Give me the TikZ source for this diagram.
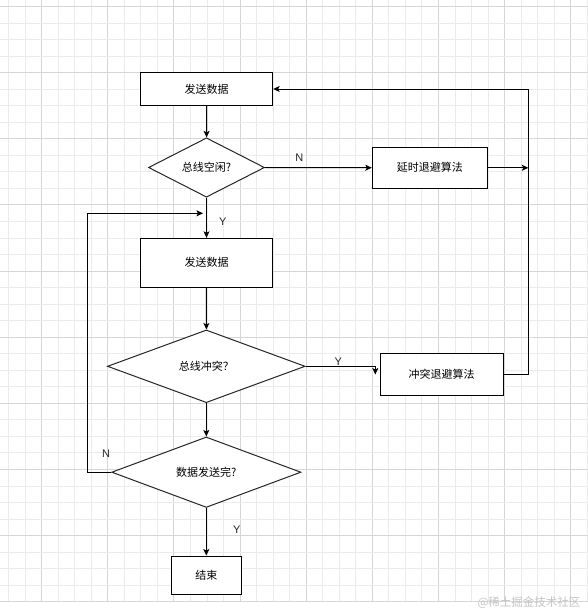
\documentclass[tikz,border=0pt]{standalone}
\usepackage{fontspec}
\setmainfont{Liberation Sans}
\newfontfamily\cjk{Noto Sans CJK SC}
\usetikzlibrary{shapes.geometric,arrows.meta}
\definecolor{gridminor}{HTML}{EBEBEB}
\definecolor{gridmajor}{HTML}{D6D6D6}
\definecolor{wmark}{HTML}{C4C4C4}
\tikzset{
  box/.style={draw=black,line width=1pt,fill=white,inner sep=0pt,font=\cjk\fontsize{11}{13}\selectfont},
  dia/.style={draw=black!85,line width=1pt,fill=white,diamond,inner sep=0pt,font=\cjk\fontsize{11}{13}\selectfont},
  arr/.style={draw=black,line width=1pt,-{Stealth[length=6.5pt,width=6pt,inset=1.5pt]}},
  ln/.style={draw=black,line width=1pt},
  lab/.style={font=\fontsize{11}{13}\selectfont,text=black!85}
}
\begin{document}
\begin{tikzpicture}[x=1pt,y=-1pt]
\useasboundingbox (0,0) rectangle (588,614);
\fill[white] (0,0) rectangle (588,614);
% grid
\foreach \k in {-3,...,33} {
  \pgfmathsetmacro{\xx}{41.7+16.53*\k}
  \pgfmathtruncatemacro{\mm}{mod(\k+400,4)}
  \ifnum\mm=0
    \draw[gridmajor,line width=0.9pt] (\xx,0) -- (\xx,600.7);
  \else
    \draw[gridminor,line width=0.9pt] (\xx,0) -- (\xx,600.7);
  \fi
}
\foreach \k in {-4,...,32} {
  \pgfmathsetmacro{\yy}{72.7+16.53*\k}
  \pgfmathtruncatemacro{\mm}{mod(\k+400,4)}
  \ifnum\mm=0
    \draw[gridmajor,line width=0.9pt] (0,\yy) -- (588,\yy);
  \else
    \draw[gridminor,line width=0.9pt] (0,\yy) -- (588,\yy);
  \fi
}
% nodes
\node[box,minimum width=132pt,minimum height=32.5pt] (b1) at (206.7,89) {发送数据};
\node[dia,minimum width=116pt,minimum height=42pt] (d1) at (206.5,167.5) {总线空闲?};
\node[box,minimum width=115pt,minimum height=41pt] (b2) at (429.8,167.8) {延时退避算法};
\node[box,minimum width=132.4pt,minimum height=49pt] (b3) at (206.5,262.8) {发送数据};
\node[dia,minimum width=197.7pt,minimum height=72.7pt] (d2) at (206.3,366.3) {总线冲突？};
\node[box,minimum width=123.3pt,minimum height=41.7pt] (b4) at (441.7,374.2) {冲突退避算法};
\node[dia,minimum width=189.3pt,minimum height=61pt] (d3) at (206.3,472.2) {数据发送完?};
\node[box,minimum width=70pt,minimum height=38pt] (e) at (206.3,575) {结束};
% helper coordinates
\coordinate (c1) at (528.3,167.8);
\coordinate (cr) at (528.3,89);
\coordinate (cl) at (87.3,213.3);
\coordinate (ca) at (203,213.3);
\coordinate (cy) at (375.3,366.3);
\coordinate (cz) at (375.3,374.5);
% connectors
\draw[arr] (b1) -- (d1);
\draw[arr] (d1) -- (b2);
\draw[arr] (b2) -- (c1);
\draw[arr] (b4.east) -| (cr) -- (b1.east);
\draw[arr] (d1) -- (b3);
\draw[arr] (d3.west) -| (cl) -- (ca);
\draw[arr] (b3) -- (d2);
\draw[arr] (d2.east) -- (cy) -- (cz);
\draw[arr] (d2) -- (d3);
\draw[arr] (d3) -- (e);
% labels
\node[lab] (lN1) at (299.3,157.3) {N};
\node[lab] (lY1) at (222.7,222.2) {Y};
\node[lab] (lY2) at (338.3,362) {Y};
\node[lab] (lN2) at (106,453.3) {N};
\node[lab] (lY3) at (236.7,530) {Y};
% watermark
\node[font=\cjk\fontsize{11.5}{13}\selectfont,text=wmark,anchor=east] (wm) at (584,603) {@稀土掘金技术社区};
\end{tikzpicture}
\end{document}
